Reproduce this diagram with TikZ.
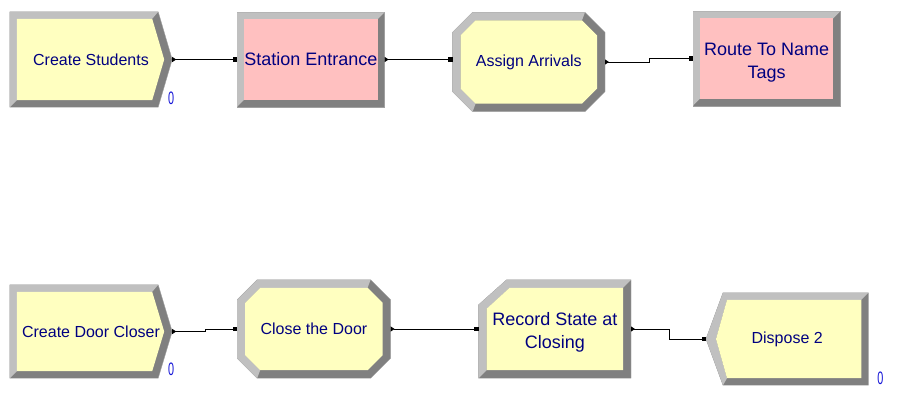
\documentclass[tikz,border=0pt]{standalone}
\usepackage{fontspec}
\setmainfont{Liberation Sans}
\usetikzlibrary{positioning,calc,arrows.meta,backgrounds}

\definecolor{modyellow}{RGB}{255,255,192}
\definecolor{modpink}{RGB}{255,192,192}
\definecolor{bevlight}{RGB}{192,192,192}
\definecolor{bevdark}{RGB}{128,128,128}
\definecolor{bevline}{RGB}{160,160,160}
\definecolor{modtext}{RGB}{0,0,128}
\definecolor{countblue}{RGB}{20,20,215}

% plain box (station, route)
\newcommand{\rectbody}[2]{%
  \filldraw[fill=bevdark, draw=bevline] (#1.north west) rectangle (#1.south east);
  \fill[bevlight] (#1.south west) -- (#1.north west) -- (#1.north east)
    -- ($(#1.north east)+(-7,7)$) -- ($(#1.south west)+(7,-7)$) -- cycle;
  \fill[#2] ($(#1.north west)+(7,7)$) rectangle ($(#1.south east)+(-7,-7)$);}
% create: point on the right
\newcommand{\createbody}[2]{%
  \filldraw[fill=bevdark, draw=bevline] (#1.north west) -- ($(#1.north east)+(-14,0)$)
    -- (#1.east) -- ($(#1.south east)+(-14,0)$) -- (#1.south west) -- cycle;
  \fill[bevlight] ($(#1.north east)+(-14,0)$) -- (#1.north west) -- (#1.south west)
    -- ($(#1.south west)+(7,-7)$) -- ($(#1.north west)+(7,7)$) -- ($(#1.north east)+(-20,7)$) -- cycle;
  \fill[#2] ($(#1.north west)+(7,7)$) -- ($(#1.north east)+(-20,7)$) -- ($(#1.east)+(-8,0)$)
    -- ($(#1.south east)+(-20,-7)$) -- ($(#1.south west)+(7,-7)$) -- cycle;}
% assign / seize: cut corners
\newcommand{\octbody}[2]{%
  \filldraw[fill=bevdark, draw=bevline] ($(#1.north west)+(20,0)$) -- ($(#1.north east)+(-20,0)$)
    -- ($(#1.north east)+(0,20)$) -- ($(#1.south east)+(0,-20)$) -- ($(#1.south east)+(-20,0)$)
    -- ($(#1.south west)+(20,0)$) -- ($(#1.south west)+(0,-20)$) -- ($(#1.north west)+(0,20)$) -- cycle;
  \fill[bevlight] ($(#1.north east)+(-20,0)$) -- ($(#1.north west)+(20,0)$) -- ($(#1.north west)+(0,20)$)
    -- ($(#1.south west)+(0,-20)$) -- ($(#1.south west)+(20,0)$) -- ($(#1.south west)+(23,-8)$)
    -- ($(#1.south west)+(8,-23)$) -- ($(#1.north west)+(8,23)$) -- ($(#1.north west)+(23,8)$)
    -- ($(#1.north east)+(-23,8)$) -- cycle;
  \fill[#2] ($(#1.north west)+(23,8)$) -- ($(#1.north east)+(-23,8)$) -- ($(#1.north east)+(-8,23)$)
    -- ($(#1.south east)+(-8,-23)$) -- ($(#1.south east)+(-23,-8)$) -- ($(#1.south west)+(23,-8)$)
    -- ($(#1.south west)+(8,-23)$) -- ($(#1.north west)+(8,23)$) -- cycle;}
% record: one cut corner
\newcommand{\recordbody}[2]{%
  \filldraw[fill=bevdark, draw=bevline] ($(#1.north west)+(28,0)$) -- (#1.north east) -- (#1.south east)
    -- (#1.south west) -- ($(#1.north west)+(0,25)$) -- cycle;
  \fill[bevlight] (#1.north east) -- ($(#1.north west)+(28,0)$) -- ($(#1.north west)+(0,25)$)
    -- (#1.south west) -- ($(#1.south west)+(8,-8)$) -- ($(#1.north west)+(8,29)$)
    -- ($(#1.north west)+(31,8)$) -- ($(#1.north east)+(-8,8)$) -- cycle;
  \fill[#2] ($(#1.north west)+(31,8)$) -- ($(#1.north east)+(-8,8)$) -- ($(#1.south east)+(-8,-8)$)
    -- ($(#1.south west)+(8,-8)$) -- ($(#1.north west)+(8,29)$) -- cycle;}
% dispose: point on the left
\newcommand{\disposebody}[2]{%
  \filldraw[fill=bevdark, draw=bevline] ($(#1.north west)+(17,0)$) -- (#1.north east) -- (#1.south east)
    -- ($(#1.south west)+(17,0)$) -- (#1.west) -- cycle;
  \fill[bevlight] (#1.north east) -- ($(#1.north west)+(17,0)$) -- (#1.west) -- ($(#1.south west)+(17,0)$)
    -- ($(#1.south west)+(21,-7)$) -- ($(#1.west)+(10,0)$) -- ($(#1.north west)+(21,7)$)
    -- ($(#1.north east)+(-7,7)$) -- cycle;
  \fill[#2] ($(#1.north west)+(21,7)$) -- ($(#1.north east)+(-7,7)$) -- ($(#1.south east)+(-7,-7)$)
    -- ($(#1.south west)+(21,-7)$) -- ($(#1.west)+(10,0)$) -- cycle;}

\begin{document}
\begin{tikzpicture}[x=1pt, y=-1pt,
        module/.style={rectangle, inner sep=0pt, align=center, text=modtext, font=\fontsize{16}{20}\selectfont},
        bigmodule/.style={module, font=\fontsize{18}{23}\selectfont},
        counter/.style={rectangle, inner sep=0pt, text=countblue, font=\fontsize{18}{18}\selectfont},
        link/.style={line width=0.8pt, {Triangle[reversed, length=4pt, width=5pt]}-{Square[length=4.5pt, width=4.5pt]}}
    ]
    \useasboundingbox (0,0) rectangle (897,418);
    % top row
    \node[module, minimum width=162pt, minimum height=95pt] (cs) at (91,59.5) {Create Students};
    \node[bigmodule, minimum width=147pt, minimum height=94pt] (se) [right=65pt of cs] {Station Entrance};
    \node[module, minimum width=152pt, minimum height=99pt] (aa) [right=68pt of se, yshift=-2.5pt] {Assign Arrivals};
    \node[bigmodule, minimum width=147pt, minimum height=94pt] (rt) [right=88pt of aa, yshift=3.5pt] {\rule{0pt}{20pt}Route To Name\\Tags};
    % bottom row
    \node[module, minimum width=162pt, minimum height=93pt] (cd) at (91,331.5) {Create Door Closer};
    \node[module, minimum width=153pt, minimum height=98pt] (ct) [right=65pt of cd, yshift=2.5pt] {Close the Door};
    \node[bigmodule, minimum width=152pt, minimum height=98pt] (rs) [right=88pt of ct] {\rule{0pt}{20pt}Record State at\\Closing};
    \node[module, minimum width=162pt, minimum height=92pt] (dp) [right=75pt of rs, yshift=-10pt] {Dispose 2};
    % counters
    \node[counter] (csnum) at ($(cs.south east)+(-1,-9)$) {\scalebox{0.6}[1]{0}};
    \node[counter] (cdnum) at ($(cd.south east)+(-1,-9)$) {\scalebox{0.6}[1]{0}};
    \node[counter] (dpnum) at ($(dp.south east)+(12,-7)$) {\scalebox{0.6}[1]{0}};
    \begin{scope}[on background layer]
    \fill[white] (0,0) rectangle (897,418);
    \createbody{cs}{modyellow}
    \rectbody{se}{modpink}
    \octbody{aa}{modyellow}
    \rectbody{rt}{modpink}
    \createbody{cd}{modyellow}
    \octbody{ct}{modyellow}
    \recordbody{rs}{modyellow}
    \disposebody{dp}{modyellow}
    \end{scope}
    \draw[link] (cs.east) -- (cs.east -| se.west);
    \draw[link] (se.east) -- (se.east -| aa.west);
    \draw[link] (aa.east) -- ++(44,0) |- (rt.west);
    \draw[link] (cd.east) -- ++(33,0) |- (ct.west);
    \draw[link] (ct.east) -- (rs.west);
    \draw[link] (rs.east) -- ++(38,0) |- (dp.west);
\end{tikzpicture}
\end{document}
